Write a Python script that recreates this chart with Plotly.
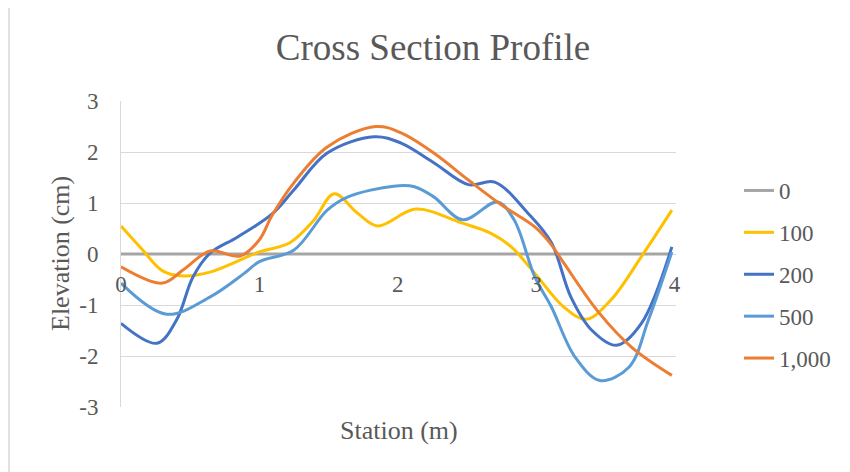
import plotly.graph_objects as go

# ---- data ----
series_names = ["0", "100", "200", "500", "1,000"]

x_0 = [0.0, 1.0, 2.0, 3.0, 3.98]
y_0 = [0.0, 0.0, 0.0, 0.0, 0.0]

x_100 = [0.0, 0.15, 0.30, 0.45, 0.65, 1.0, 1.22, 1.39, 1.54, 1.71, 1.855, 2.13, 2.46, 2.67, 2.82, 2.99, 3.2, 3.36, 3.54, 3.76, 3.98]
y_100 = [0.55, 0.10, -0.33, -0.43, -0.35, 0.04, 0.22, 0.65, 1.18, 0.80, 0.55, 0.88, 0.61, 0.41, 0.14, -0.38, -1.04, -1.28, -0.90, -0.05, 0.86]

x_200 = [0.0, 0.26, 0.40, 0.52, 0.645, 0.84, 1.09, 1.25, 1.49, 1.83, 2.02, 2.26, 2.51, 2.70, 2.94, 3.11, 3.25, 3.40, 3.58, 3.76, 3.98]
y_200 = [-1.36, -1.75, -1.30, -0.45, 0.02, 0.33, 0.78, 1.26, 1.98, 2.30, 2.18, 1.79, 1.36, 1.41, 0.80, 0.22, -0.84, -1.49, -1.79, -1.36, 0.14]

x_500 = [0.0, 0.33, 0.645, 0.89, 1.0, 1.25, 1.49, 1.64, 1.97, 2.12, 2.26, 2.47, 2.72, 2.84, 2.99, 3.11, 3.28, 3.46, 3.67, 3.81, 3.98]
y_500 = [-0.57, -1.18, -0.84, -0.38, -0.15, 0.08, 0.86, 1.12, 1.33, 1.32, 1.12, 0.67, 1.02, 0.67, -0.45, -1.04, -2.02, -2.48, -2.22, -1.30, 0.04]

x_1000 = [0.0, 0.30, 0.45, 0.645, 0.86, 1.0, 1.09, 1.25, 1.49, 1.84, 2.02, 2.26, 2.51, 2.75, 2.99, 3.11, 3.20, 3.45, 3.69, 3.98]
y_1000 = [-0.25, -0.57, -0.31, 0.06, -0.04, 0.28, 0.75, 1.40, 2.10, 2.50, 2.38, 1.98, 1.45, 0.96, 0.53, 0.18, -0.18, -1.14, -1.83, -2.38]

x_tick_vals = [0, 1, 2, 3, 4]
x_tick_text = ["0", "1", "2", "3", "4"]
y_tick_vals = [-3, -2, -1, 0, 1, 2, 3]
y_tick_text = ["-3", "-2", "-1", "0", "1", "2", "3"]

colors = ["#A5A5A5", "#FFC000", "#4472C4", "#5B9BD5", "#ED7D31"]
xs = [x_0, x_100, x_200, x_500, x_1000]
ys = [y_0, y_100, y_200, y_500, y_1000]

FONT = "Liberation Serif, Times New Roman, serif"
TXT = "#595959"

fig = go.Figure()
for name, xv, yv, c in zip(series_names, xs, ys, colors):
    fig.add_trace(go.Scatter(
        x=xv, y=yv, name=name, mode="lines",
        line=dict(color=c, width=3, shape="spline", smoothing=1),
        legendgroup=name,
    ))

# the page body adds an 8px offset around the figure
OFF = 8
W, H = 850, 472
pw, ph = 555, 306
L = 121 - OFF
T = 101 - OFF
R = W - L - pw
B = H - T - ph

def px2paper_x(px):
    return (px - OFF - L) / pw

def py2paper_y(py):
    return (T + ph - (py - OFF)) / ph

fig.update_layout(
    width=W, height=H,
    margin=dict(l=L, r=R, t=T, b=B, pad=0, autoexpand=False),
    paper_bgcolor="white", plot_bgcolor="white",
    font=dict(family=FONT, color=TXT, size=23),
    title=dict(text="Cross Section Profile", font=dict(family=FONT, size=37, color=TXT),
               xref="paper", x=px2paper_x(433), xanchor="center",
               yref="container", y=1 - (47 - OFF) / H, yanchor="middle", automargin=False),
    xaxis=dict(range=[0, 4.01], tickvals=x_tick_vals, ticktext=x_tick_text,
               showgrid=False, zeroline=False, showline=False, ticks="",
               anchor="free", position=0.5, tickfont=dict(size=23, color=TXT),
               ticklabelstandoff=14, automargin=False),
    yaxis=dict(range=[-3, 3], tickvals=y_tick_vals, ticktext=y_tick_text,
               showgrid=True, gridcolor="#D9D9D9", gridwidth=1,
               zeroline=False, showline=True, linecolor="#D9D9D9", linewidth=1,
               ticks="", tickfont=dict(size=23, color=TXT), ticklabelstandoff=17,
               automargin=False),
    legend=dict(x=px2paper_x(739), xanchor="left", y=py2paper_y(169), yanchor="top",
                font=dict(size=23, color=TXT), tracegroupgap=9,
                bgcolor="rgba(0,0,0,0)"),
    showlegend=True,
    annotations=[
        dict(text="Elevation (cm)", textangle=-90, xref="paper", yref="paper",
             x=px2paper_x(60), y=0.5, xanchor="center", yanchor="middle",
             showarrow=False, font=dict(family=FONT, size=26, color=TXT)),
        dict(text="Station (m)", xref="paper", yref="paper",
             x=0.5, y=py2paper_y(430), xanchor="center", yanchor="middle",
             showarrow=False, font=dict(family=FONT, size=26, color=TXT)),
    ],
    shapes=[
        dict(type="line", xref="paper", yref="paper",
             x0=px2paper_x(9), x1=px2paper_x(9), y0=py2paper_y(6), y1=py2paper_y(490),
             line=dict(color="#D9D9D9", width=1.5)),
        dict(type="line", xref="paper", yref="paper",
             x0=px2paper_x(9), x1=px2paper_x(870), y0=py2paper_y(6), y1=py2paper_y(6),
             line=dict(color="#D9D9D9", width=1.5)),
    ],
)

fig.write_html("out.html")
